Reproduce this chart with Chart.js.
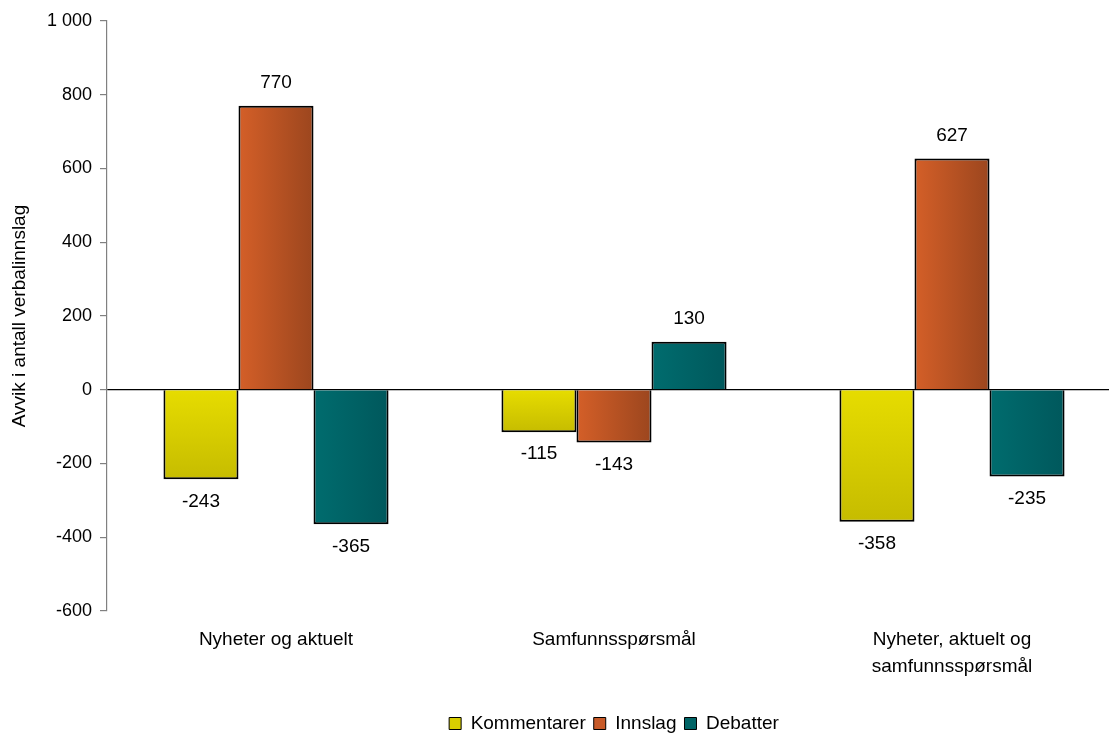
<!DOCTYPE html>
<html>
<head>
<meta charset="utf-8">
<script src="https://cdn.jsdelivr.net/npm/chart.js@4"></script>
<style>
  html, body { margin: 0; padding: 0; background: #fff; overflow: hidden; }
  #wrap { width: 1125px; height: 733px; }
</style>
</head>
<body>
<div id="wrap"><canvas id="avvikChart" width="1125" height="733"></canvas></div>
<script>
const categories = ['Nyheter og aktuelt', 'Samfunnsspørsmål', ['Nyheter, aktuelt og', 'samfunnsspørsmål']];
const kommentarer = [-243, -115, -358];
const innslag = [770, -143, 627];
const debatter = [-365, 130, -235];
const yTicks = [-600, -400, -200, 0, 200, 400, 600, 800, 1000];

const FONT = "'Liberation Sans', Arial, sans-serif";

// gradient fills per bar (yellow vertical, others left-to-right)
const gradientFill = {
    id: 'gradientFill',
    beforeDatasetsDraw(chart) {
        const ctx = chart.ctx;
        chart.data.datasets.forEach((ds, di) => {
            const meta = chart.getDatasetMeta(di);
            meta.data.forEach(bar => {
                const left = bar.x - bar.width / 2;
                const right = bar.x + bar.width / 2;
                const top = Math.min(bar.y, bar.base);
                const bottom = Math.max(bar.y, bar.base);
                let g;
                if (ds.gradDir === 'v') {
                    g = ctx.createLinearGradient(0, top, 0, bottom);
                } else {
                    g = ctx.createLinearGradient(left, 0, right, 0);
                }
                g.addColorStop(0, ds.gradStops[0]);
                g.addColorStop(1, ds.gradStops[1]);
                bar.options = Object.assign({}, bar.options, { backgroundColor: g });
            });
        });
    }
};

const valueLabels = {
    id: 'valueLabels',
    afterDatasetsDraw(chart) {
        const ctx = chart.ctx;
        ctx.save();
        ctx.font = '19px ' + FONT;
        ctx.fillStyle = '#000';
        ctx.textAlign = 'center';
        ctx.textBaseline = 'middle';
        chart.data.datasets.forEach((ds, di) => {
            chart.getDatasetMeta(di).data.forEach((bar, i) => {
                const v = ds.data[i];
                const y = v >= 0 ? bar.y - 23 : bar.y + 22;
                ctx.fillText(String(v), bar.x, y);
            });
        });
        ctx.restore();
    }
};

new Chart(document.getElementById('avvikChart'), {
    type: 'bar',
    data: {
        labels: categories,
        datasets: [
            {
                label: 'Kommentarer',
                data: kommentarer,
                backgroundColor: '#D8CE00',
                gradDir: 'v',
                gradStops: ['#E6DC00', '#C6BC00'],
                borderColor: '#000',
                borderWidth: 2
            },
            {
                label: 'Innslag',
                data: innslag,
                backgroundColor: '#C85A28',
                gradDir: 'h',
                gradStops: ['#D45F28', '#9C461E'],
                borderColor: '#000',
                borderWidth: 2
            },
            {
                label: 'Debatter',
                data: debatter,
                backgroundColor: '#006466',
                gradDir: 'h',
                gradStops: ['#006C6E', '#00585C'],
                borderColor: '#000',
                borderWidth: 2
            }
        ]
    },
    options: {
        responsive: false,
        animation: false,
        layout: { padding: { top: 21, right: 4, left: 0, bottom: -10 } },
        datasets: {
            bar: { categoryPercentage: 0.666, barPercentage: 1.0 }
        },
        scales: {
            x: {
                grid: { display: false },
                border: { display: false },
                ticks: {
                    color: '#000',
                    font: { family: FONT, size: 19, lineHeight: 1.42 },
                    padding: 7,
                    maxRotation: 0
                },
                afterFit(scale) { scale.height = 95; }
            },
            y: {
                min: -600,
                max: 1000,
                afterBuildTicks(scale) { scale.ticks = yTicks.map(v => ({ value: v })); },
                grid: {
                    color: ctx => (ctx.tick && ctx.tick.value === 0) ? '#000' : 'rgba(0,0,0,0)',
                    lineWidth: 1.2,
                    tickColor: '#808080',
                    tickLength: 7
                },
                border: { color: '#808080', width: 1.2 },
                ticks: {
                    color: '#000',
                    font: { family: FONT, size: 18 },
                    padding: 8,
                    callback: v => String(v).replace(/\B(?=(\d{3})+(?!\d))/g, ' ')
                },
                title: {
                    display: true,
                    text: 'Avvik i antall verbalinnslag',
                    color: '#000',
                    font: { family: FONT, size: 19 },
                    padding: { top: 8, bottom: 0 }
                },
                afterFit(scale) { scale.width = 107; }
            }
        },
        plugins: {
            legend: {
                position: 'bottom',
                fullSize: false,
                labels: {
                    color: '#000',
                    font: { family: FONT, size: 19 },
                    boxWidth: 12,
                    boxHeight: 12,
                    padding: 8,
                    generateLabels(chart) {
                        return chart.data.datasets.map((ds, i) => ({
                            text: ds.label,
                            fillStyle: ds.backgroundColor,
                            strokeStyle: '#000',
                            lineWidth: 1,
                            fontColor: '#000',
                            datasetIndex: i
                        }));
                    }
                }
            },
            tooltip: { enabled: false }
        }
    },
    plugins: [gradientFill, valueLabels]
});
</script>
</body>
</html>
